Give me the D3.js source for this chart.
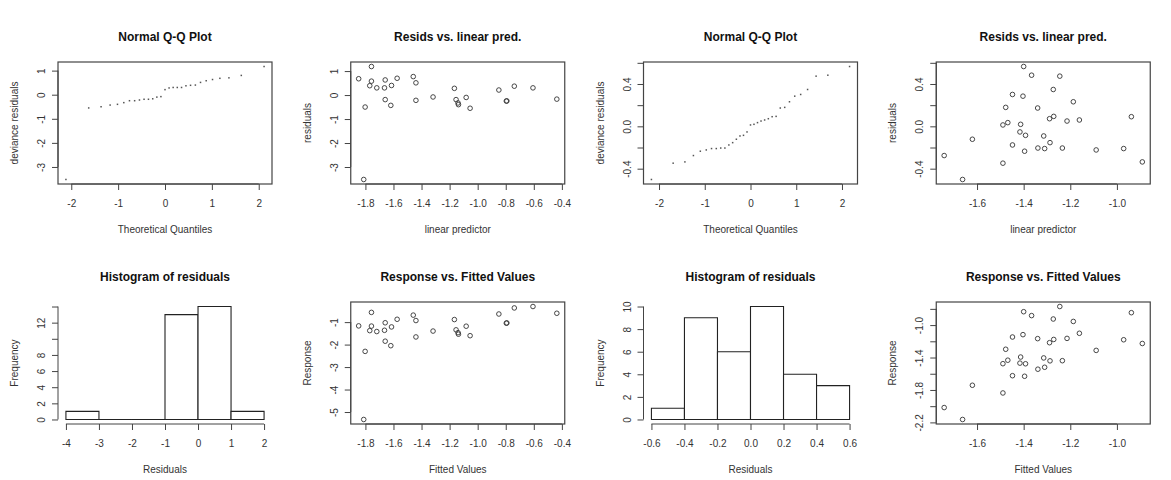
<!DOCTYPE html>
<html>
<head>
<meta charset="utf-8">
<script src="https://cdn.jsdelivr.net/npm/d3@7"></script>
<style>
body { margin: 0; background: #fff; }
svg text { font-family: "Liberation Sans", Arial, sans-serif; }
</style>
</head>
<body>
<script>
// model 1 : 29 observations
var linPred1 = [-1.848, -1.757, -1.757, -1.769, -1.719, -1.802, -1.812, -1.659, -1.664, -1.659,
	-1.614, -1.619, -1.574, -1.459, -1.440, -1.440, -1.318, -1.166, -1.154, -1.140,
	-1.137, -1.082, -1.054, -0.849, -0.796, -0.792, -0.739, -0.606, -0.436]
var resid1 = [0.68, 1.19, 0.58, 0.39, 0.30, -0.50, -3.52, 0.63, 0.30, -0.19,
	0.40, -0.43, 0.70, 0.77, 0.51, -0.22, -0.08, 0.28, -0.19, -0.33,
	-0.40, -0.10, -0.55, 0.21, -0.25, -0.245, 0.37, 0.30, -0.17]
var response1 = [-1.168, -0.567, -1.177, -1.379, -1.419, -2.302, -5.332, -1.029, -1.364, -1.849,
	-1.214, -2.049, -0.874, -0.689, -0.930, -1.660, -1.398, -0.886, -1.344, -1.470,
	-1.537, -1.182, -1.604, -0.639, -1.046, -1.037, -0.369, -0.306, -0.606]
var theoQ1 = [-2.114, -1.628, -1.364, -1.171, -1.014, -0.879, -0.758, -0.648, -0.545, -0.447,
	-0.353, -0.262, -0.174, -0.087, 0, 0.087, 0.174, 0.262, 0.353, 0.447,
	0.545, 0.648, 0.758, 0.879, 1.014, 1.171, 1.364, 1.628, 2.114]
var devResid1 = [-3.52, -0.55, -0.50, -0.43, -0.40, -0.33, -0.25, -0.25, -0.22, -0.19,
	-0.19, -0.17, -0.10, -0.08, 0.21, 0.28, 0.30, 0.30, 0.30, 0.37,
	0.39, 0.40, 0.51, 0.58, 0.63, 0.68, 0.70, 0.80, 1.17]
var histBreaks1 = [-4, -3, -2, -1, 0, 1, 2]
var histCounts1 = [1, 0, 0, 13, 14, 1]

// model 2 : 33 observations
var linPred2 = [-1.741, -1.662, -1.620, -1.489, -1.489, -1.477, -1.468, -1.448, -1.448, -1.416,
	-1.413, -1.400, -1.403, -1.396, -1.392, -1.366, -1.339, -1.340, -1.314, -1.310,
	-1.289, -1.287, -1.273, -1.271, -1.245, -1.234, -1.214, -1.187, -1.161, -1.089,
	-0.971, -0.938, -0.891]
var resid2 = [-0.276, -0.502, -0.122, -0.348, 0.013, 0.179, 0.035, 0.301, -0.176, -0.053,
	0.019, 0.565, 0.285, -0.235, -0.085, 0.483, -0.205, 0.173, -0.091, -0.210,
	0.072, -0.154, 0.348, 0.094, 0.474, -0.205, 0.050, 0.232, 0.060, -0.223,
	-0.210, 0.091, -0.336]
var response2 = [-2.017, -2.164, -1.742, -1.837, -1.476, -1.298, -1.433, -1.147, -1.624, -1.469,
	-1.394, -0.835, -1.118, -1.631, -1.477, -0.883, -1.544, -1.167, -1.405, -1.520,
	-1.217, -1.441, -0.925, -1.177, -0.771, -1.439, -1.164, -0.955, -1.101, -1.312,
	-1.181, -0.847, -1.227]
var theoQ2 = [-2.166, -1.691, -1.434, -1.248, -1.097, -0.967, -0.852, -0.748, -0.651, -0.560,
	-0.473, -0.390, -0.309, -0.230, -0.153, -0.076, 0, 0.076, 0.153, 0.230,
	0.309, 0.390, 0.473, 0.560, 0.651, 0.748, 0.852, 0.967, 1.097, 1.248,
	1.434, 1.691, 2.166]
var devResid2 = [-0.502, -0.348, -0.336, -0.276, -0.235, -0.223, -0.210, -0.210, -0.205, -0.205,
	-0.176, -0.154, -0.122, -0.091, -0.085, -0.053, 0.013, 0.019, 0.035, 0.050,
	0.060, 0.072, 0.091, 0.094, 0.173, 0.179, 0.232, 0.285, 0.301, 0.348,
	0.474, 0.483, 0.565]
var histBreaks2 = [-0.6, -0.4, -0.2, 0, 0.2, 0.4, 0.6]
var histCounts2 = [1, 9, 6, 10, 4, 3]

// ticks and their labels ('' = tick without label)
var qqTicks = [-2, -1, 0, 1, 2]
var qqTickLabels = ['-2', '-1', '0', '1', '2']
var resTicks1 = [-3, -2, -1, 0, 1]
var resTickLabels1 = ['-3', '-2', '-1', '0', '1']
var predTicks1 = [-1.8, -1.6, -1.4, -1.2, -1.0, -0.8, -0.6, -0.4]
var predTickLabels1 = ['-1.8', '-1.6', '-1.4', '-1.2', '-1.0', '-0.8', '-0.6', '-0.4']
var respTicks1 = [-5, -4, -3, -2, -1]
var respTickLabels1 = ['-5', '-4', '-3', '-2', '-1']
var histXTicks1 = [-4, -3, -2, -1, 0, 1, 2]
var histXLabels1 = ['-4', '-3', '-2', '-1', '0', '1', '2']
var histYTicks1 = [0, 2, 4, 6, 8, 10, 12, 14]
var histYLabels1 = ['0', '2', '4', '6', '8', '', '12', '']

var resTicks2 = [-0.4, -0.2, 0, 0.2, 0.4, 0.6]
var resTickLabels2 = ['-0.4', '', '0.0', '', '0.4', '']
var predTicks2 = [-1.6, -1.4, -1.2, -1.0]
var predTickLabels2 = ['-1.6', '-1.4', '-1.2', '-1.0']
var respTicks2 = [-2.2, -2.0, -1.8, -1.6, -1.4, -1.2, -1.0, -0.8]
var respTickLabels2 = ['-2.2', '', '-1.8', '', '-1.4', '', '-1.0', '']
var histXTicks2 = [-0.6, -0.4, -0.2, 0, 0.2, 0.4, 0.6]
var histXLabels2 = ['-0.6', '-0.4', '-0.2', '0.0', '0.2', '0.4', '0.6']
var histYTicks2 = [0, 2, 4, 6, 8, 10]
var histYLabels2 = ['0', '2', '4', '6', '8', '10']


var width = 1171,
	height = 480,
	colW = width / 4,
	rowH = 240,
	margin = {left: 58, top: 62},
	pw = 214,
	ph = 122

var svg = d3.select('body').append('svg')
	.attr('width', width)
	.attr('height', height)

svg.append('rect')
	.attr('width', width)
	.attr('height', height)
	.attr('fill', '#fff')

// R style 4% padding
function ext(vals) {
	var e = d3.extent(vals), d = (e[1] - e[0]) * 0.04
	return [e[0] - d, e[1] + d]
}

function makePanel(col, row, o) {
	var g = svg.append('g')
		.attr('transform', 'translate(' + (col * colW + margin.left) + ',' + (row * rowH + margin.top) + ')')

	var x = d3.scaleLinear().domain(o.xdom).range([0, pw])
	var y = d3.scaleLinear().domain(o.ydom).range([ph, 0])

	// x axis
	var xa = g.append('g')
		.attr('transform', 'translate(0,' + ph + ')')
		.call(d3.axisBottom(x)
			.tickValues(o.xticks)
			.tickFormat((d, i) => o.xlabels[i])
			.tickSize(6))
	xa.select('.domain').remove()
	xa.append('line')
		.attr('x1', x(o.xticks[0])).attr('x2', x(o.xticks[o.xticks.length - 1]))
		.attr('stroke', '#444')
	xa.selectAll('.tick line').attr('stroke', '#444')
	xa.selectAll('text')
		.attr('y', 23).attr('dy', null)
		.attr('fill', '#333')
		.style('font-size', '10px')

	// y axis, labels parallel to the axis
	var ya = g.append('g')
		.call(d3.axisLeft(y)
			.tickValues(o.yticks)
			.tickFormat((d, i) => o.ylabels[i])
			.tickSize(6))
	ya.select('.domain').remove()
	ya.append('line')
		.attr('y1', y(o.yticks[0])).attr('y2', y(o.yticks[o.yticks.length - 1]))
		.attr('stroke', '#444')
	ya.selectAll('.tick line').attr('stroke', '#444')
	ya.selectAll('text')
		.attr('transform', 'rotate(-90)')
		.attr('x', 0).attr('y', -13).attr('dy', null)
		.attr('text-anchor', 'middle')
		.attr('fill', '#333')
		.style('font-size', '10px')

	if (o.box) {
		g.append('rect')
			.attr('width', pw).attr('height', ph)
			.attr('fill', 'none')
			.attr('stroke', '#444')
			.attr('stroke-width', 1.2)
	}

	g.append('text')
		.attr('x', pw / 2).attr('y', -21)
		.attr('text-anchor', 'middle')
		.attr('fill', '#111')
		.style('font-size', '12px')
		.style('font-weight', 'bold')
		.text(o.title)

	g.append('text')
		.attr('x', pw / 2).attr('y', ph + 49)
		.attr('text-anchor', 'middle')
		.attr('fill', '#333')
		.style('font-size', '10px')
		.text(o.xlab)

	g.append('text')
		.attr('transform', 'translate(-40,' + (ph / 2) + ') rotate(-90)')
		.attr('text-anchor', 'middle')
		.attr('fill', '#333')
		.style('font-size', '10px')
		.text(o.ylab)

	return {g: g, x: x, y: y}
}

function qqPanel(col, theo, dev, yticks, ylabels) {
	var p = makePanel(col, 0, {
		xdom: ext(theo), ydom: ext(dev),
		xticks: qqTicks, xlabels: qqTickLabels,
		yticks: yticks, ylabels: ylabels,
		box: true,
		title: 'Normal Q-Q Plot', xlab: 'Theoretical Quantiles', ylab: 'deviance residuals'
	})
	p.g.selectAll('.pt')
		.data(dev)
		.enter()
		.append('rect')
			.attr('x', (d, i) => p.x(theo[i]) - 0.75)
			.attr('y', d => p.y(d) - 0.75)
			.attr('width', 1.5)
			.attr('height', 1.5)
			.attr('fill', '#555')
}

function scatterPanel(col, row, xs, ys, o) {
	o.xdom = ext(xs)
	o.ydom = ext(ys)
	o.box = true
	var p = makePanel(col, row, o)
	p.g.selectAll('circle')
		.data(ys)
		.enter()
		.append('circle')
			.attr('cx', (d, i) => p.x(xs[i]))
			.attr('cy', d => p.y(d))
			.attr('r', 2.3)
			.attr('fill', 'none')
			.attr('stroke', '#333')
			.attr('stroke-width', 0.9)
}

function histPanel(col, breaks, counts, o) {
	o.xdom = ext(breaks)
	o.ydom = ext([0, d3.max(counts)])
	o.box = false
	o.title = 'Histogram of residuals'
	o.xlab = 'Residuals'
	o.ylab = 'Frequency'
	var p = makePanel(col, 1, o)
	// paths so that empty bins still show as a flat line
	p.g.selectAll('.bar')
		.data(counts)
		.enter()
		.append('path')
			.attr('class', 'bar')
			.attr('d', (d, i) => {
				var x0 = p.x(breaks[i]), x1 = p.x(breaks[i + 1]), y0 = p.y(0), y1 = p.y(d)
				return 'M' + x0 + ',' + y0 + 'V' + y1 + 'H' + x1 + 'V' + y0 + 'Z'
			})
			.attr('fill', '#fff')
			.attr('stroke', '#222')
			.attr('stroke-width', 1.1)
}

// top row
qqPanel(0, theoQ1, devResid1, resTicks1, resTickLabels1)
scatterPanel(1, 0, linPred1, resid1, {
	xticks: predTicks1, xlabels: predTickLabels1,
	yticks: resTicks1, ylabels: resTickLabels1,
	title: 'Resids vs. linear pred.', xlab: 'linear predictor', ylab: 'residuals'
})
qqPanel(2, theoQ2, devResid2, resTicks2, resTickLabels2)
scatterPanel(3, 0, linPred2, resid2, {
	xticks: predTicks2, xlabels: predTickLabels2,
	yticks: resTicks2, ylabels: resTickLabels2,
	title: 'Resids vs. linear pred.', xlab: 'linear predictor', ylab: 'residuals'
})

// bottom row
histPanel(0, histBreaks1, histCounts1, {
	xticks: histXTicks1, xlabels: histXLabels1,
	yticks: histYTicks1, ylabels: histYLabels1
})
scatterPanel(1, 1, linPred1, response1, {
	xticks: predTicks1, xlabels: predTickLabels1,
	yticks: respTicks1, ylabels: respTickLabels1,
	title: 'Response vs. Fitted Values', xlab: 'Fitted Values', ylab: 'Response'
})
histPanel(2, histBreaks2, histCounts2, {
	xticks: histXTicks2, xlabels: histXLabels2,
	yticks: histYTicks2, ylabels: histYLabels2
})
scatterPanel(3, 1, linPred2, response2, {
	xticks: predTicks2, xlabels: predTickLabels2,
	yticks: respTicks2, ylabels: respTickLabels2,
	title: 'Response vs. Fitted Values', xlab: 'Fitted Values', ylab: 'Response'
})
</script>
</body>
</html>
